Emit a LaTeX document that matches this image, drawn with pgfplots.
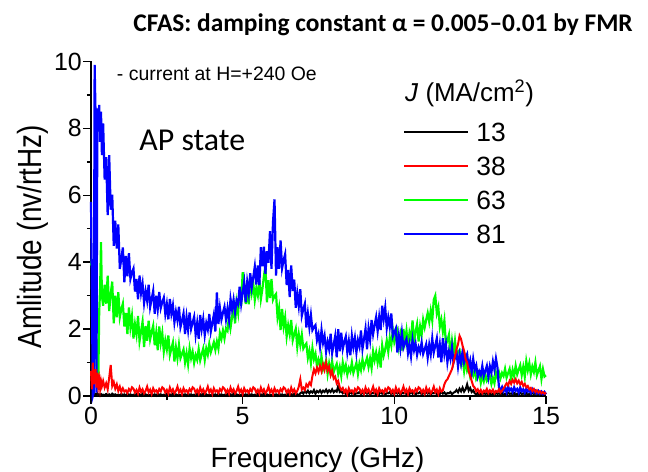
\documentclass[border=0pt]{standalone}
\usepackage{pgfplots}
\pgfplotsset{compat=1.18}
\usepackage{pgfplotstable}
\usepackage{graphicx}
\usepackage{fontspec}
\setmainfont{Liberation Sans}
\newfontfamily\calibri{Carlito}

% Noise spectra, amplitude in nV/rtHz, for four current densities J (MA/cm^2)
% columns: frequency (GHz), J=81, J=63, J=38, J=13
\pgfplotstableread{
x blue green red black
0.00 5.80 3.90 0.75 0.05
0.03 3.00 4.10 0.20 0.10
0.06 0.00 2.80 1.00 0.04
0.09 0.10 3.50 0.35 0.07
0.12 9.90 2.20 0.55 0.03
0.15 8.40 3.00 0.80 0.06
0.18 0.10 1.00 0.25 0.04
0.21 8.60 0.30 0.70 0.08
0.24 8.00 0.40 0.30 0.03
0.27 8.70 2.50 0.50 0.05
0.30 7.60 3.20 0.22 0.04
0.33 8.50 4.60 0.45 0.06
0.36 7.20 3.00 0.30 0.03
0.40 8.15 2.70 0.45 0.04
0.45 6.47 3.33 0.25 0.02
0.50 7.14 2.76 0.38 0.06
0.55 5.41 3.60 0.20 0.03
0.60 7.20 2.54 0.55 0.05
0.65 5.57 3.05 0.93 0.01
0.70 6.02 3.42 0.30 0.07
0.75 4.49 2.17 0.42 0.03
0.80 5.24 3.00 0.22 0.05
0.85 4.41 2.35 0.35 0.02
0.90 5.13 3.10 0.15 0.04
0.95 3.80 2.36 0.28 0.02
1.00 4.10 2.59 0.12 0.06
1.05 4.44 2.76 0.23 0.03
1.10 3.40 2.08 0.13 0.05
1.15 4.19 2.48 0.17 0.01
1.20 3.58 1.85 0.09 0.07
1.25 4.27 2.65 0.21 0.03
1.30 3.50 2.06 0.14 0.05
1.35 3.69 2.39 0.26 0.02
1.40 3.81 1.72 0.22 0.04
1.45 3.12 2.14 0.10 0.02
1.50 3.50 1.84 0.18 0.06
1.55 2.89 2.39 0.07 0.03
1.60 3.60 1.64 0.25 0.05
1.65 3.08 1.93 0.12 0.01
1.70 3.36 2.22 0.20 0.07
1.75 2.78 1.46 0.08 0.03
1.80 3.13 2.09 0.15 0.05
1.85 2.85 1.65 0.28 0.02
1.90 3.33 2.25 0.11 0.04
1.95 2.66 1.70 0.19 0.02
2.00 2.90 1.92 0.06 0.06
2.05 3.14 2.10 0.23 0.03
2.10 2.46 1.52 0.13 0.05
2.15 3.00 1.89 0.17 0.01
2.20 2.60 1.37 0.09 0.07
2.25 3.11 2.08 0.21 0.03
2.30 2.63 1.59 0.14 0.05
2.35 2.81 1.88 0.26 0.02
2.40 2.94 1.33 0.22 0.04
2.45 2.45 1.66 0.10 0.02
2.50 2.75 1.40 0.18 0.06
2.55 2.29 1.81 0.07 0.03
2.60 2.90 1.23 0.25 0.05
2.65 2.46 1.42 0.12 0.01
2.70 2.71 1.60 0.20 0.07
2.75 2.20 1.03 0.08 0.03
2.80 2.52 1.45 0.15 0.05
2.85 2.26 1.13 0.28 0.02
2.90 2.67 1.53 0.11 0.04
2.95 2.06 1.13 0.19 0.02
3.00 2.25 1.26 0.06 0.06
3.05 2.47 1.39 0.23 0.03
3.10 1.85 1.01 0.13 0.05
3.15 2.36 1.28 0.17 0.01
3.20 1.98 0.95 0.09 0.07
3.25 2.50 1.42 0.21 0.03
3.30 2.01 1.13 0.14 0.05
3.35 2.20 1.32 0.26 0.02
3.40 2.37 0.99 0.22 0.04
3.45 1.83 1.22 0.10 0.02
3.50 2.18 1.08 0.18 0.06
3.55 1.71 1.40 0.07 0.03
3.60 2.42 1.07 0.25 0.05
3.65 2.00 1.25 0.12 0.01
3.70 2.30 1.42 0.20 0.07
3.75 1.82 1.08 0.08 0.03
3.80 2.18 1.42 0.15 0.05
3.85 1.99 1.24 0.28 0.02
3.90 2.45 1.56 0.11 0.04
3.95 1.93 1.31 0.19 0.02
4.00 2.18 1.46 0.06 0.06
4.05 2.43 1.61 0.23 0.03
4.10 1.93 1.38 0.13 0.05
4.15 3.10 1.63 0.17 0.01
4.20 2.15 1.42 0.09 0.07
4.25 2.63 1.88 0.21 0.03
4.30 2.28 1.71 0.14 0.05
4.35 2.49 1.96 0.26 0.02
4.40 2.67 1.72 0.22 0.04
4.45 2.29 2.02 0.10 0.02
4.50 2.62 1.95 0.18 0.06
4.55 2.28 2.39 0.07 0.03
4.60 2.90 2.04 0.25 0.05
4.65 2.59 2.35 0.12 0.01
4.70 2.88 2.70 0.20 0.07
4.75 2.51 2.17 0.08 0.03
4.80 2.86 2.79 0.15 0.05
4.85 2.75 2.49 0.28 0.02
4.90 3.27 3.13 0.11 0.04
4.95 2.76 2.70 0.19 0.02
5.00 3.10 3.70 0.06 0.06
5.05 3.41 3.25 0.23 0.03
5.10 2.80 2.75 0.13 0.05
5.15 3.41 3.18 0.17 0.01
5.20 3.08 2.74 0.09 0.07
5.25 3.67 3.47 0.21 0.03
5.30 3.25 3.08 0.14 0.05
5.35 3.55 3.36 0.26 0.02
5.40 3.87 2.87 0.22 0.04
5.45 3.33 3.22 0.10 0.02
5.50 3.90 3.01 0.18 0.06
5.55 3.32 3.47 0.07 0.03
5.60 4.45 2.90 0.25 0.05
5.65 3.88 3.20 0.12 0.01
5.70 4.46 3.57 0.20 0.07
5.75 3.65 3.90 0.08 0.03
5.80 4.33 2.80 0.15 0.05
5.85 3.98 3.46 0.28 0.02
5.90 4.93 2.93 0.11 0.04
5.95 3.80 3.50 0.19 0.02
6.00 5.20 2.88 0.06 0.06
6.05 5.88 2.99 0.23 0.03
6.10 3.60 3.05 0.13 0.05
6.15 4.45 2.36 0.17 0.01
6.20 3.80 2.63 0.09 0.07
6.25 4.65 1.97 0.21 0.03
6.30 3.82 2.60 0.14 0.05
6.35 4.06 2.08 0.26 0.02
6.40 4.24 2.35 0.22 0.04
6.45 3.32 1.78 0.10 0.02
6.50 3.77 2.11 0.18 0.06
6.55 2.96 1.85 0.07 0.03
6.60 3.90 2.27 0.25 0.05
6.65 3.14 1.67 0.12 0.01
6.70 3.48 1.85 0.20 0.07
6.75 2.64 2.01 0.08 0.03
6.80 3.07 1.47 0.15 0.05
6.85 2.69 1.84 0.28 0.02
6.90 3.19 1.53 0.50 0.08
6.95 2.40 1.83 0.19 0.12
7.00 2.60 1.42 0.25 0.07
7.05 2.76 1.51 0.18 0.15
7.10 2.05 1.57 0.35 0.09
7.15 2.46 1.14 0.28 0.16
7.20 2.05 1.35 0.40 0.08
7.25 2.42 0.99 0.33 0.14
7.30 1.97 1.43 0.60 0.10
7.35 2.06 1.10 0.80 0.18
7.40 2.12 1.26 0.68 0.07
7.45 1.67 0.89 0.85 0.15
7.50 1.85 1.09 0.72 0.11
7.55 1.48 0.92 0.90 0.17
7.60 1.97 1.18 0.74 0.09
7.65 1.59 0.80 0.95 0.16
7.70 1.80 0.93 0.78 0.12
7.75 1.32 1.06 1.00 0.19
7.80 1.62 0.66 0.76 0.10
7.85 1.40 0.97 0.88 0.17
7.90 1.86 0.72 0.62 0.12
7.95 1.29 1.03 0.75 0.20
8.00 1.54 0.71 0.52 0.11
8.05 1.79 0.85 0.58 0.16
8.10 1.16 0.96 0.38 0.13
8.15 2.00 0.66 0.45 0.30
8.20 1.34 0.87 0.26 0.12
8.25 1.89 0.60 0.18 0.15
8.30 1.41 1.00 0.24 0.08
8.35 1.62 0.75 0.11 0.12
8.40 1.78 0.92 0.19 0.06
8.45 1.31 0.64 0.06 0.10
8.50 1.64 0.84 0.23 0.05
8.55 1.22 0.73 0.13 0.12
8.60 1.80 1.00 0.17 0.07
8.65 1.46 0.69 0.09 0.11
8.70 1.74 0.84 0.21 0.04
8.75 1.30 0.99 0.14 0.09
8.80 1.67 0.66 0.26 0.08
8.85 1.48 0.97 0.22 0.12
8.90 1.96 0.78 0.10 0.05
8.95 1.41 1.09 0.18 0.10
9.00 1.70 0.84 0.07 0.06
9.05 2.01 0.99 0.25 0.13
9.10 1.40 1.14 0.12 0.07
9.15 2.01 0.87 0.20 0.11
9.20 1.68 1.12 0.08 0.04
9.25 2.27 0.84 0.15 0.09
9.30 1.85 1.33 0.28 0.08
9.35 2.12 1.07 0.11 0.12
9.40 2.36 1.30 0.19 0.05
9.45 1.94 1.00 0.06 0.10
9.50 2.36 1.28 0.23 0.06
9.55 1.97 0.85 0.13 0.13
9.60 2.70 1.51 0.17 0.07
9.65 2.30 1.21 0.09 0.11
9.70 2.64 1.40 0.21 0.04
9.75 2.03 1.66 0.14 0.09
9.80 2.35 1.33 0.26 0.08
9.85 2.07 1.74 0.22 0.12
9.90 2.47 1.51 0.10 0.05
9.95 1.78 1.97 0.18 0.10
10.00 1.90 1.61 0.07 0.06
10.05 2.02 1.78 0.25 0.13
10.10 1.30 1.94 0.12 0.07
10.15 1.79 1.48 0.20 0.11
10.20 1.43 1.80 0.08 0.04
10.25 1.89 1.36 0.15 0.09
10.30 1.45 2.00 0.28 0.08
10.35 1.60 1.62 0.11 0.12
10.40 1.71 1.95 0.19 0.05
10.45 1.28 1.48 0.06 0.10
10.50 1.54 1.89 0.23 0.06
10.55 1.19 1.70 0.13 0.13
10.60 1.68 2.26 0.17 0.07
10.65 1.37 1.64 0.09 0.11
10.70 1.57 1.92 0.21 0.04
10.75 1.23 2.15 0.14 0.09
10.80 1.46 1.63 0.26 0.08
10.85 1.32 2.08 0.22 0.12
10.90 1.60 1.83 0.10 0.05
10.95 1.26 2.28 0.18 0.10
11.00 1.40 2.05 0.07 0.06
11.05 1.55 2.28 0.25 0.13
11.10 1.15 2.48 0.12 0.07
11.15 1.53 2.22 0.20 0.11
11.20 1.25 2.55 0.08 0.04
11.25 1.72 2.26 0.15 0.09
11.30 1.30 2.88 0.28 0.08
11.35 1.51 3.00 0.11 0.12
11.40 1.72 2.48 0.19 0.05
11.45 1.15 2.66 0.06 0.10
11.50 1.53 2.07 0.23 0.06
11.55 1.01 2.28 0.13 0.13
11.60 1.73 1.93 0.17 0.07
11.65 1.26 2.25 0.35 0.11
11.70 1.55 1.55 0.45 0.04
11.75 1.01 1.65 0.50 0.09
11.80 1.33 1.83 0.60 0.08
11.85 1.11 1.19 0.70 0.12
11.90 1.47 1.63 0.80 0.05
11.95 0.99 1.23 1.00 0.10
12.00 1.15 1.64 1.20 0.12
12.05 1.31 1.21 1.40 0.18
12.10 0.88 1.33 1.55 0.11
12.15 1.24 1.37 1.80 0.22
12.20 0.98 0.96 1.70 0.14
12.25 1.34 1.12 1.50 0.25
12.30 1.00 0.75 1.35 0.13
12.35 1.14 1.08 1.10 0.20
12.40 1.25 0.76 1.00 0.35
12.45 0.86 0.88 0.75 0.16
12.50 1.06 0.59 0.60 0.24
12.55 0.71 0.74 0.45 0.12
12.60 1.10 0.61 0.30 0.17
12.65 0.79 0.79 0.25 0.08
12.70 0.92 0.50 0.14 0.05
12.75 0.58 0.58 0.20 0.09
12.80 0.74 0.66 0.10 0.03
12.85 0.63 0.39 0.18 0.07
12.90 0.90 0.60 0.08 0.04
12.95 0.60 0.44 0.16 0.10
13.00 0.75 0.65 0.12 0.06
13.05 0.90 0.45 0.21 0.08
13.10 0.57 0.52 0.09 0.05
13.15 0.89 0.58 0.17 0.09
13.20 0.70 0.36 0.11 0.03
13.25 1.03 0.54 0.19 0.07
13.30 0.79 0.38 0.08 0.04
13.35 1.12 0.70 0.15 0.10
13.40 0.85 0.55 0.12 0.06
13.45 0.25 0.71 0.20 0.08
13.50 0.18 0.53 0.10 0.05
13.55 0.27 0.69 0.16 0.09
13.60 0.14 0.60 0.22 0.03
13.65 0.24 0.81 0.30 0.07
13.70 0.11 0.55 0.38 0.04
13.75 0.30 0.68 0.32 0.10
13.80 0.16 0.81 0.45 0.06
13.85 0.22 0.50 0.36 0.08
13.90 0.12 0.78 0.48 0.05
13.95 0.26 0.60 0.40 0.09
14.00 0.15 0.90 0.50 0.03
14.05 0.21 0.65 0.38 0.07
14.10 0.10 0.79 0.46 0.04
14.15 0.25 0.92 0.35 0.10
14.20 0.14 0.63 0.42 0.06
14.25 0.20 0.87 0.30 0.08
14.30 0.10 0.58 0.36 0.05
14.35 0.22 1.04 0.26 0.09
14.40 0.13 0.77 0.30 0.03
14.45 0.18 0.98 0.20 0.07
14.50 0.09 0.65 0.24 0.04
14.55 0.20 0.88 0.15 0.10
14.60 0.11 0.72 0.21 0.06
14.65 0.16 1.00 0.12 0.08
14.70 0.08 0.62 0.17 0.05
14.75 0.15 0.76 0.10 0.09
14.80 0.07 0.89 0.14 0.03
14.85 0.13 0.51 0.08 0.07
14.90 0.06 0.80 0.12 0.04
14.95 0.12 0.58 0.07 0.10
15.00 0.05 0.62 0.10 0.06
}\spectra

\begin{document}
\begin{tikzpicture}
\path[use as bounding box] (0,0) rectangle (648bp,472bp);
\begin{axis}[
  at={(91bp,76bp)}, anchor=south west,
  scale only axis, width=455bp, height=334.5bp,
  xmin=0, xmax=15, ymin=0, ymax=10,
  axis x line=bottom, axis y line=left,
  axis line style={-, line width=1.4bp},
  xtick={0,5,10,15}, ytick={0,2,4,6,8,10},
  minor xtick={2.5,7.5,12.5}, minor ytick={1,3,5,7,9},
  tick align=outside, major tick length=7.5bp, minor tick length=4bp,
  every tick/.append style={black, line width=1.4bp},
  /pgf/number format/assume math mode=true,
  tick label style={font=\fontsize{25}{25}\selectfont, inner sep=0pt},
  xticklabel style={yshift=-3.5bp},
  yticklabel style={xshift=-1.5bp},
  xlabel={Frequency (GHz)},
  ylabel={\scalebox{1}[1.2]{Amlitude (nv/rtHz)}},
  label style={font=\fontsize{28}{28}\selectfont, inner sep=0pt},
  xlabel style={at={(rel axis cs:0.4978,-0.2123)}, anchor=base},
  ylabel style={at={(rel axis cs:-0.1087,0.477)}, anchor=base},
  clip=false,
  legend cell align=left,
  legend image code/.code={\draw[#1, line width=2bp] (0bp,0bp) -- (64bp,0bp);
    \path (72bp,0bp);},
  legend style={
    at={(axis cs:10.29,8.185)}, anchor=north west,
    draw=none, fill=none, inner sep=0pt, outer sep=0pt,
    row sep=15.2bp,
    font=\fontsize{26.5}{26.5}\selectfont,
    nodes={inner sep=0pt, text height=19bp, text depth=0bp},
  },
]
\addlegendimage{black}\addlegendentry{13}
\addlegendimage{red}\addlegendentry{38}
\addlegendimage{green}\addlegendentry{63}
\addlegendimage{blue}\addlegendentry{81}

\addplot[black, line width=2bp, forget plot] table[x=x, y=black]{\spectra};
\addplot[green, line width=2.2bp, forget plot] table[x=x, y=green]{\spectra};
\addplot[blue, line width=2.2bp, forget plot] table[x=x, y=blue]{\spectra};
\addplot[red, line width=2bp, forget plot] table[x=x, y=red]{\spectra};

\node[anchor=base west, inner sep=0pt, font=\calibri\fontsize{32}{32}\selectfont]
  at (axis cs:1.59,7.35) {AP state};
\node[anchor=base west, inner sep=0pt, font=\fontsize{19.5}{19.5}\selectfont]
  at (axis cs:0.85,9.43) {- current at H=+240 Oe};
\node[anchor=base west, inner sep=0pt, font=\fontsize{26}{26}\selectfont]
  at (axis cs:10.35,8.80) {\textit{J} (MA/cm\textsuperscript{2})};
\end{axis}
\node[anchor=base, inner sep=0pt, font=\calibri\bfseries\fontsize{25.5}{25.5}\selectfont]
  at (383bp,440.3bp) {CFAS: damping constant α = 0.005–0.01 by FMR};
\end{tikzpicture}
\end{document}
